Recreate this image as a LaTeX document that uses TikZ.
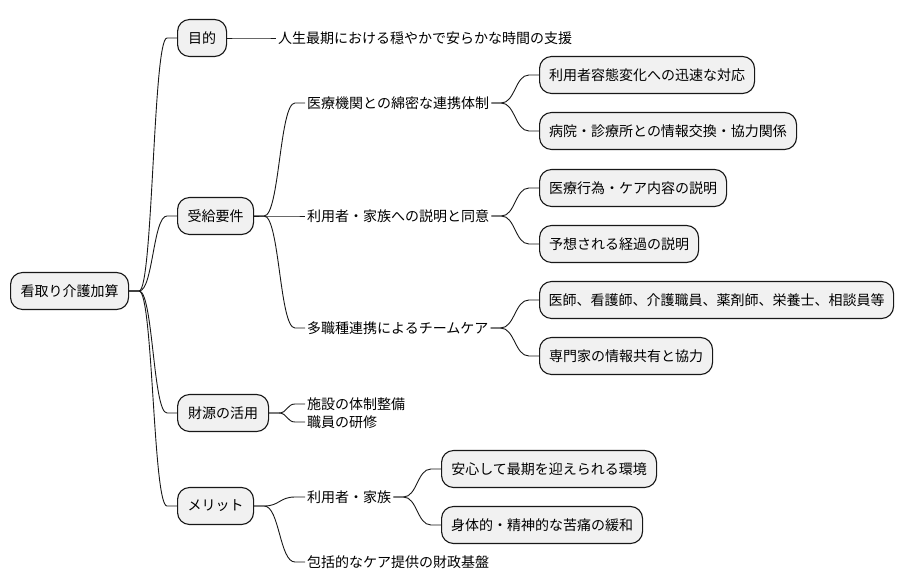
\documentclass[tikz,border=0pt]{standalone}
\usepackage{fontspec}
\setmainfont{Noto Sans CJK JP}
\usetikzlibrary{calc}
\definecolor{boxfill}{HTML}{F1F1F1}
\definecolor{boxline}{HTML}{181818}
\newcommand\mmlink[2]{\draw[conn] let \p1=(#1.east), \p2=(#2.west) in (\p1) -- (\x1+10pt,\y1) .. controls ({(\x1+\x2)/2},\y1) and ({(\x1+\x2)/2},\y2) .. (\x2-10pt,\y2) -- (\p2);}
\tikzset{
  mmbox/.style={draw=boxline, fill=boxfill, rounded corners=12pt, line width=1.1pt,
    minimum height=37pt, inner xsep=0pt, anchor=west, font=\fontsize{14pt}{16pt}\selectfont},
  mmlbl/.style={inner xsep=2pt, inner ysep=2pt, anchor=west, font=\fontsize{14pt}{16pt}\selectfont},
  conn/.style={draw=boxline, line width=0.9pt}
}
\begin{document}
\begin{tikzpicture}[x=1pt,y=-1pt]
\useasboundingbox (0,0) rectangle (905,583);
% level 1
\node[mmbox, minimum width=118pt] (root) at (10,291) {看取り介護加算};
% level 2
\node[mmbox, minimum width=49pt] (goal) at (177,38) {目的};
\node[mmbox, minimum width=76pt] (req) at (177,216) {受給要件};
\node[mmbox, minimum width=91pt] (fund) at (177,413) {財源の活用};
\node[mmbox, minimum width=76pt] (merit) at (177,506) {メリット};
% text children
\node[mmlbl] (g1) at (276,38) {人生最期における穏やかで安らかな時間の支援};
\node[mmlbl] (t1) at (305,103) {医療機関との綿密な連携体制};
\node[mmlbl] (t2) at (305,216) {利用者・家族への説明と同意};
\node[mmlbl] (t3) at (305,328) {多職種連携によるチームケア};
\node[mmlbl] (f1) at (305,404) {施設の体制整備};
\node[mmlbl] (f2) at (305,422) {職員の研修};
\node[mmlbl] (m1) at (305,497) {利用者・家族};
\node[mmlbl] (m2) at (305,562) {包括的なケア提供の財政基盤};
% level 4 boxes
\node[mmbox, minimum width=215pt] (b1) at (539,75) {利用者容態変化への迅速な対応};
\node[mmbox, minimum width=257pt] (b2) at (539,131) {病院・診療所との情報交換・協力関係};
\node[mmbox, minimum width=187pt] (b3) at (539,188) {医療行為・ケア内容の説明};
\node[mmbox, minimum width=159pt] (b4) at (539,244) {予想される経過の説明};
\node[mmbox, minimum width=354pt] (b5) at (539,300) {医師、看護師、介護職員、薬剤師、栄養士、相談員等};
\node[mmbox, minimum width=173pt] (b6) at (539,356) {専門家の情報共有と協力};
\node[mmbox, minimum width=215pt] (b7) at (441,469) {安心して最期を迎えられる環境};
\node[mmbox, minimum width=201pt] (b8) at (441,525) {身体的・精神的な苦痛の緩和};
% connectors
\mmlink{root}{goal}
\mmlink{root}{req}
\mmlink{root}{fund}
\mmlink{root}{merit}
\mmlink{goal}{g1}
\mmlink{req}{t1}
\mmlink{req}{t2}
\mmlink{req}{t3}
\mmlink{t1}{b1}
\mmlink{t1}{b2}
\mmlink{t2}{b3}
\mmlink{t2}{b4}
\mmlink{t3}{b5}
\mmlink{t3}{b6}
\mmlink{fund}{f1}
\mmlink{fund}{f2}
\mmlink{merit}{m1}
\mmlink{merit}{m2}
\mmlink{m1}{b7}
\mmlink{m1}{b8}
\end{tikzpicture}
\end{document}
